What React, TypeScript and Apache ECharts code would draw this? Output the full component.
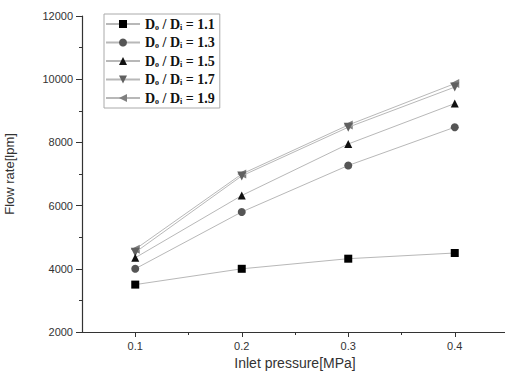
import React, { useEffect, useRef } from "react";
import * as echarts from "echarts";

const pressures = [0.1, 0.2, 0.3, 0.4];
const ratioLabels = ["1.1", "1.3", "1.5", "1.7", "1.9"];
const flow11 = [3500, 4000, 4320, 4500];
const flow13 = [4000, 5800, 7270, 8480];
const flow15 = [4350, 6320, 7950, 9230];
const flow17 = [4520, 6940, 8480, 9750];
const flow19 = [4620, 7000, 8550, 9860];
const xMajorTicks = [0.1, 0.2, 0.3, 0.4];
const xMinorTicks = [0.15, 0.25, 0.35];

const seriesValues = [flow11, flow13, flow15, flow17, flow19];
const symbols = ["rect", "circle", "triangle", "path://M0,0 L10,0 L5,9 Z", "path://M9,0 L9,10 L0,5 Z"];
const symbolSizes = [8, 8, 8, 9, 9];
const markerColors = ["#000000", "#555555", "#111111", "#606060", "#808080"];

export default function App() {
  const ref = useRef<HTMLDivElement>(null);
  useEffect(() => {
    if (!ref.current) return;
    const chart = echarts.init(ref.current, undefined, { renderer: "svg" });
    const names = ratioLabels.map((r) => `Do/Di = ${r}`);
    chart.setOption({
      animation: false,
      backgroundColor: "#ffffff",
      grid: { left: 82, top: 16, bottom: 44, right: -3, containLabel: false, outerBoundsMode: "none" },
      legend: {
        left: 104,
        top: 14,
        orient: "vertical",
        data: names,
        itemWidth: 34,
        itemHeight: 10,
        itemGap: 4.5,
        padding: [3, 5, 3, 1],
        borderColor: "#aaaaaa",
        borderWidth: 1,
        formatter: (n: string) => {
          const r = n.split("= ")[1];
          return `{b|D}{s|o}{b| / D}{s|i}{b| = ${r}}`;
        },
        textStyle: {
          rich: {
            b: { fontFamily: "Liberation Serif", fontWeight: "bold", fontSize: 14, lineHeight: 14, color: "#111", verticalAlign: "bottom" },
            s: { fontFamily: "Liberation Serif", fontWeight: "bold", fontSize: 8, lineHeight: 14, color: "#111", verticalAlign: "bottom" },
          },
        },
      },
      xAxis: [
        {
          type: "value",
          min: 0.05,
          max: 0.45,
          name: "Inlet pressure[MPa]",
          nameLocation: "middle",
          nameGap: 23,
          nameTextStyle: { fontFamily: "Liberation Sans", fontSize: 14, color: "#333" },
          axisLine: { show: true, lineStyle: { color: "#333", width: 1.2 } },
          axisTick: { show: true, length: 5, customValues: xMajorTicks, lineStyle: { color: "#333" } },
          axisLabel: { customValues: xMajorTicks, fontFamily: "Liberation Sans", fontSize: 11, color: "#333", margin: 8, formatter: (v: number) => v.toFixed(1) },
          splitLine: { show: false },
        },
        {
          type: "value",
          min: 0.05,
          max: 0.45,
          position: "bottom",
          axisLine: { show: false },
          axisTick: { show: true, length: 3, customValues: xMinorTicks, lineStyle: { color: "#333" } },
          axisLabel: { show: false },
          splitLine: { show: false },
        },
      ],
      yAxis: {
        type: "value",
        min: 2000,
        max: 12000,
        interval: 2000,
        name: "Flow rate[lpm]",
        nameLocation: "middle",
        nameGap: 66,
        nameTextStyle: { fontFamily: "Liberation Sans", fontSize: 13, color: "#333" },
        axisLine: { show: true, lineStyle: { color: "#333", width: 1.2 } },
        axisTick: { show: true, length: 6, lineStyle: { color: "#333" } },
        minorTick: { show: true, splitNumber: 2, length: 3, lineStyle: { color: "#333" } },
        axisLabel: { fontFamily: "Liberation Sans", fontSize: 11, color: "#333", margin: 9, formatter: (v: number) => String(v) },
        splitLine: { show: false },
      },
      series: seriesValues.map((vals, i) => ({
        name: names[i],
        type: "line",
        xAxisIndex: 0,
        data: vals.map((v, j) => [pressures[j], v]),
        symbol: symbols[i],
        symbolSize: symbolSizes[i],
        showAllSymbol: true,
        lineStyle: { color: "#b8b8b8", width: 1 },
        itemStyle: { color: markerColors[i] },
        z: 10 - i,
      })),
    });
    return () => chart.dispose();
  }, []);
  return <div ref={ref} style={{ position: "fixed", left: 0, top: 0, width: 505, height: 376 }} />;
}
